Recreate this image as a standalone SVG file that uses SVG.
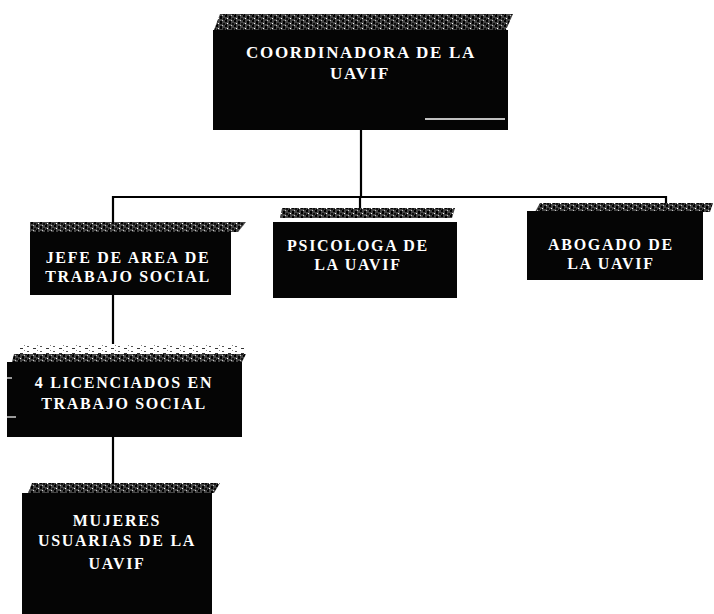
<svg xmlns="http://www.w3.org/2000/svg" width="714" height="614" viewBox="0 0 714 614">
<style>
.box{fill:#050505}
.t{font-family:"Liberation Serif","Times New Roman",serif;font-weight:bold;font-size:16px;fill:#fff;text-anchor:middle;letter-spacing:1.7px}
.big{font-size:17px}
.hd{fill:url(#dither)}
.hl{fill:url(#sparse)}
.c{stroke:#000;stroke-width:2.2;fill:none}
</style>
<defs>
<pattern id="dither" width="9" height="5" patternUnits="userSpaceOnUse">
<rect width="9" height="5" fill="#444"/>
<rect x="0" y="0" width="2" height="2" fill="#000"/>
<rect x="4" y="1" width="2" height="3" fill="#000"/>
<rect x="7" y="3" width="2" height="2" fill="#111"/>
<rect x="2" y="3" width="1" height="1" fill="#fff"/>
<rect x="6" y="0" width="1" height="1" fill="#ccc"/>
<rect x="1" y="4" width="1" height="1" fill="#000"/>
</pattern>
<pattern id="sparse" width="13" height="5" patternUnits="userSpaceOnUse">
<rect width="13" height="5" fill="#fff"/>
<rect x="1" y="1" width="2" height="1" fill="#555"/>
<rect x="7" y="3" width="3" height="1" fill="#333"/>
<rect x="11" y="0" width="1" height="1" fill="#888"/>
</pattern>
</defs>

<g id="connectors">
<path class="c" d="M361 130 V197"/>
<path class="c" d="M113 222 V197 H666 V204"/>
<path class="c" d="M360 197 V210"/>
<path class="c" d="M113 295 V345"/>
<path class="c" d="M113 437 V484"/>
</g>

<g id="coordinadora">
<polygon class="hd" points="220,14 513,14 506,30 214,30"/>
<rect class="box" x="213" y="30" width="295" height="100"/>
<line x1="425" y1="119" x2="505" y2="119" stroke="#fff" stroke-width="1.5"/>
<text class="t big" x="361" y="58">COORDINADORA DE LA</text>
<text class="t big" x="360" y="79">UAVIF</text>
</g>

<g id="jefe">
<polygon class="hd" points="30,222 246,222 238,232 30,232"/>
<rect class="box" x="30" y="232" width="201" height="63"/>
<text class="t" x="128" y="263">JEFE DE AREA DE</text>
<text class="t" x="128" y="282">TRABAJO SOCIAL</text>
</g>

<g id="psicologa">
<polygon class="hd" points="282,208 455,208 452,218 280,218"/>
<rect class="box" x="273" y="222" width="184" height="76"/>
<text class="t" x="358" y="251">PSICOLOGA DE</text>
<text class="t" x="358" y="270">LA UAVIF</text>
</g>

<g id="abogado">
<polygon class="hd" points="540,203 713,203 710,212 535,212"/>
<rect class="box" x="527" y="211" width="176" height="69"/>
<text class="t" x="611" y="250">ABOGADO DE</text>
<text class="t" x="611" y="269">LA UAVIF</text>
</g>

<g id="licenciados">
<polygon class="hl" points="18,344 245,344 245,354 16,354"/>
<polygon class="hd" points="14,354 246,354 242,362 12,362"/>
<rect class="box" x="7" y="362" width="235" height="75"/>
<line x1="7" y1="378" x2="12" y2="378" stroke="#fff" stroke-width="1.2"/>
<line x1="7" y1="417" x2="16" y2="417" stroke="#fff" stroke-width="1.2"/>
<text class="t" x="124" y="388">4 LICENCIADOS EN</text>
<text class="t" x="124" y="409">TRABAJO SOCIAL</text>
</g>

<g id="mujeres">
<polygon class="hd" points="32,483 220,483 214,493 28,493"/>
<rect class="box" x="22" y="493" width="190" height="121"/>
<text class="t" x="117" y="526">MUJERES</text>
<text class="t" x="117" y="546">USUARIAS DE LA</text>
<text class="t" x="117" y="569">UAVIF</text>
</g>
</svg>
